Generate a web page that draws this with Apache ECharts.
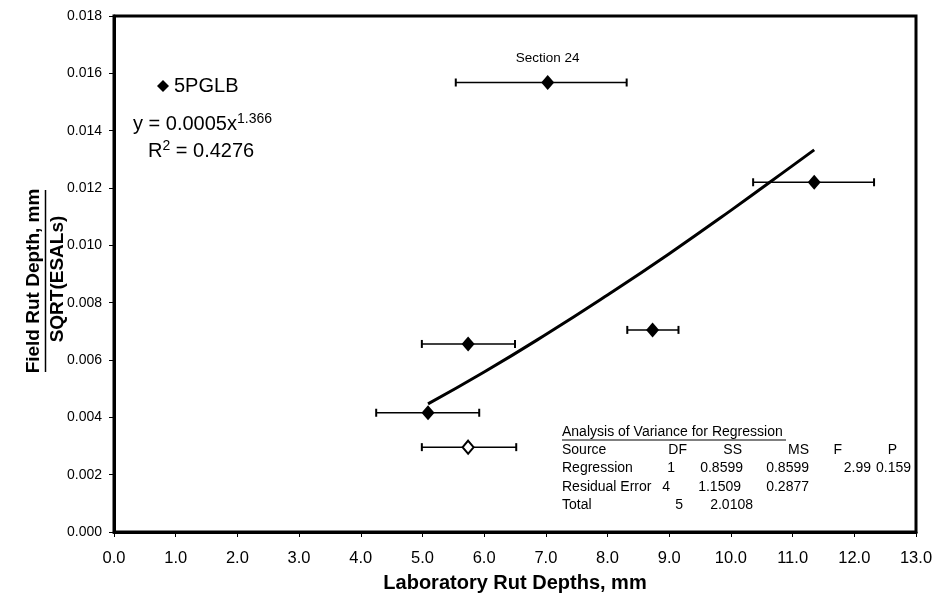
<!DOCTYPE html>
<html><head><meta charset="utf-8">
<script src="https://cdn.jsdelivr.net/npm/echarts@6/dist/echarts.min.js"></script>
<style>html,body{margin:0;padding:0;background:#fff}#c{width:937px;height:602px}</style>
</head><body><div id="c"></div>
<script>
// ---- data ----
const seriesName = '5PGLB';
const filledX    = [5.09, 5.74, 7.03, 8.73, 11.35];
const filledY    = [0.00416, 0.00656, 0.01568, 0.00705, 0.0122];
const filledLow  = [4.25, 4.99, 5.54, 8.32, 10.36];
const filledHigh = [5.92, 6.50, 8.31, 9.15, 12.32];
const filledLabels = ['', '', 'Section 24', '', ''];
const hollowX    = [5.74];
const hollowY    = [0.00296];
const hollowLow  = [4.99];
const hollowHigh = [6.52];
// power trendline y = 0.0005x^1.366
const trendX = [5.09, 6, 7, 8, 9, 10, 11, 11.35];
const trendY = [0.00447, 0.00558, 0.00689, 0.00827, 0.00971, 0.01122, 0.01278, 0.01333];
const equationText = 'y = 0.0005x';
const equationExp = '1.366';
const r2Text = ' = 0.4276';
const anovaTitle = 'Analysis of Variance for Regression';
const anovaHeader = ['Source', 'DF', 'SS', 'MS', 'F', 'P'];
const anovaRows = [
  ['Regression', '1', '0.8599', '0.8599', '2.99', '0.159'],
  ['Residual Error', '4', '1.1509', '0.2877', '', ''],
  ['Total', '5', '2.0108', '', '', '']
];
const xTitle = 'Laboratory Rut Depths, mm';
const yTitleTop = 'Field Rut Depth, mm';
const yTitleBottom = 'SQRT(ESALs)';

// ---- chart ----
const FONT = 'Liberation Sans, Arial, sans-serif';
const chart = echarts.init(document.getElementById('c'));

function errData(xs, ys, lo, hi) { return xs.map((x, i) => [x, ys[i], lo[i], hi[i]]); }
function renderErr(params, api) {
  const y = api.value(1);
  const p1 = api.coord([api.value(2), y]);
  const p2 = api.coord([api.value(3), y]);
  const cap = 4;
  return { type: 'group', children: [
    { type: 'line', shape: { x1: p1[0], y1: p1[1], x2: p2[0], y2: p2[1] }, style: { stroke: '#000', lineWidth: 1.5 } },
    { type: 'line', shape: { x1: p1[0], y1: p1[1]-cap, x2: p1[0], y2: p1[1]+cap }, style: { stroke: '#000', lineWidth: 2 } },
    { type: 'line', shape: { x1: p2[0], y1: p2[1]-cap, x2: p2[0], y2: p2[1]+cap }, style: { stroke: '#000', lineWidth: 2 } }
  ]};
}

// ANOVA table as graphic text
const TF = '14px ' + FONT;
const headerX = [562, 687, 742, 809, 842, 897];
const rowX = [
  [562, 675, 743, 809, 871, 911],
  [562, 670, 741, 809, 871, 911],
  [562, 683, 753, 809, 871, 911]
];
const tableTop = 425, rowH = 18.3;
const g = [];
g.push({ type: 'text', left: 562, top: tableTop, style: { text: anovaTitle, font: TF, fill: '#000' } });
g.push({ type: 'line', shape: { x1: 562, y1: tableTop + 15, x2: 786, y2: tableTop + 15 }, style: { stroke: '#000', lineWidth: 1 } });
anovaHeader.forEach((t, i) => {
  g.push({ type: 'text', x: headerX[i], y: tableTop + rowH, style: { text: t, font: TF, fill: '#000', textAlign: i === 0 ? 'left' : 'right', textVerticalAlign: 'top' } });
});
anovaRows.forEach((r, ri) => {
  r.forEach((t, i) => {
    if (!t) return;
    g.push({ type: 'text', x: rowX[ri][i], y: tableTop + rowH * (ri + 2), style: { text: t, font: TF, fill: '#000', textAlign: i === 0 ? 'left' : 'right', textVerticalAlign: 'top' } });
  });
});
// equation and R^2
const supRich = { s: { fontSize: 14, fontFamily: FONT, verticalAlign: 'top', padding: [0,0,11,0] } };
g.push({ type: 'text', left: 133, top: 112, style: { text: equationText + '{s|' + equationExp + '}', font: '20px ' + FONT, fill: '#000', rich: supRich } });
g.push({ type: 'text', left: 148, top: 139, style: { text: 'R{s|2}' + r2Text, font: '20px ' + FONT, fill: '#000', rich: supRich } });
// y axis title (two rotated lines with a rule between)
g.push({ type: 'text', x: 34, y: 281, rotation: Math.PI / 2, style: { text: yTitleTop, font: 'bold 19px ' + FONT, fill: '#000', textAlign: 'center', textVerticalAlign: 'middle' } });
g.push({ type: 'line', shape: { x1: 45.5, y1: 190, x2: 45.5, y2: 372 }, style: { stroke: '#000', lineWidth: 1.5 } });
g.push({ type: 'text', x: 57.5, y: 279, rotation: Math.PI / 2, style: { text: yTitleBottom, font: 'bold 19px ' + FONT, fill: '#000', textAlign: 'center', textVerticalAlign: 'middle' } });

const option = {
  animation: false,
  backgroundColor: '#fff',
  textStyle: { fontFamily: FONT },
  grid: { left: 114, right: 21, top: 16, bottom: 70, show: true, borderColor: '#000', borderWidth: 3, outerBoundsMode: 'none', containLabel: false },
  legend: {
    data: [seriesName], left: 152, top: 71, icon: 'diamond', itemWidth: 12, itemHeight: 12, itemGap: 4,
    textStyle: { fontSize: 20, color: '#000', fontFamily: FONT }, selectedMode: false
  },
  xAxis: {
    type: 'value', min: 0, max: 13, interval: 1,
    name: xTitle, nameLocation: 'middle', nameGap: 41,
    nameTextStyle: { fontSize: 20, fontWeight: 'bold', color: '#000', fontFamily: FONT },
    axisLine: { show: true, onZero: false, lineStyle: { color: '#000', width: 3 } },
    axisTick: { show: true, inside: false, length: 5, lineStyle: { color: '#000', width: 1 } },
    axisLabel: { color: '#000', fontSize: 16.5, margin: 18, formatter: v => v.toFixed(1), fontFamily: FONT },
    splitLine: { show: false }
  },
  yAxis: {
    type: 'value', min: 0, max: 0.018, interval: 0.002,
    axisLine: { show: true, onZero: false, lineStyle: { color: '#000', width: 3 } },
    axisTick: { show: true, inside: false, length: 5, lineStyle: { color: '#000', width: 1 } },
    axisLabel: { color: '#000', fontSize: 14, margin: 12, formatter: v => v.toFixed(3), fontFamily: FONT },
    splitLine: { show: false }
  },
  graphic: g,
  series: [
    { type: 'custom', name: 'errFilled', renderItem: renderErr, data: errData(filledX, filledY, filledLow, filledHigh), encode: { x: 0, y: 1 }, z: 2, silent: true },
    { type: 'custom', name: 'errHollow', renderItem: renderErr, data: errData(hollowX, hollowY, hollowLow, hollowHigh), encode: { x: 0, y: 1 }, z: 2, silent: true },
    { type: 'line', name: 'trend', data: trendX.map((x, i) => [x, trendY[i]]), showSymbol: false, smooth: true,
      lineStyle: { color: '#000', width: 3 }, z: 3, silent: true },
    { type: 'scatter', name: seriesName, symbol: 'diamond', symbolSize: [13, 15],
      itemStyle: { color: '#000', opacity: 1 }, z: 5,
      label: { show: true, position: 'top', distance: 10, color: '#000', fontSize: 13.5, fontFamily: FONT, formatter: p => filledLabels[p.dataIndex] },
      data: filledX.map((x, i) => [x, filledY[i]]) },
    { type: 'scatter', name: 'hollow', symbol: 'diamond', symbolSize: [11, 13],
      itemStyle: { color: '#fff', borderColor: '#000', borderWidth: 2, opacity: 1 }, z: 5,
      data: hollowX.map((x, i) => [x, hollowY[i]]) }
  ]
};
chart.setOption(option);
</script>
</body></html>
